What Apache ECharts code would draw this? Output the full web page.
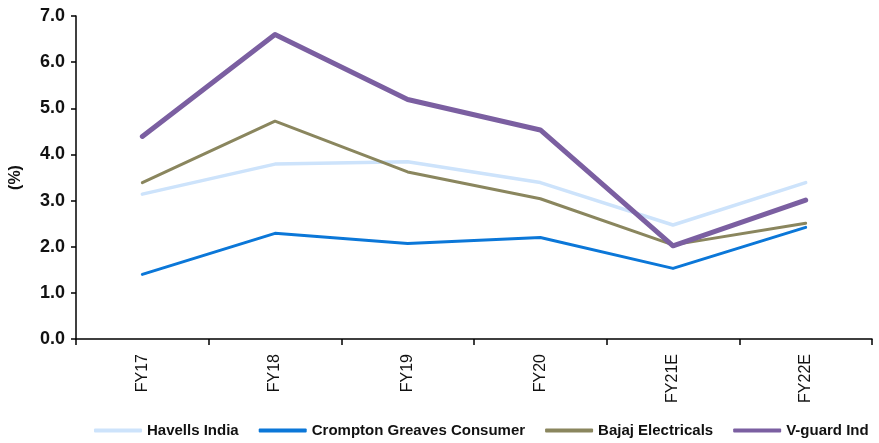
<!DOCTYPE html>
<html><head><meta charset="utf-8">
<script src="https://cdn.jsdelivr.net/npm/echarts@6/dist/echarts.min.js"></script>
<style>html,body{margin:0;padding:0;background:#fff}#c{width:879px;height:443px}</style>
</head><body><div id="c"></div>
<script>
const categories = ['FY17','FY18','FY19','FY20','FY21E','FY22E'];
const havells = [3.14, 3.79, 3.84, 3.39, 2.47, 3.39];
const crompton = [1.40, 2.29, 2.07, 2.20, 1.53, 2.42];
const bajaj = [3.39, 4.72, 3.62, 3.04, 2.04, 2.51];
const vguard = [4.39, 6.60, 5.19, 4.53, 2.02, 3.01];
const yTicks = [0,1,2,3,4,5,6,7];

const chart = echarts.init(document.getElementById('c'), null, {renderer:'canvas'});
const font = '"Liberation Sans", Arial, sans-serif';
function s(name, data, color, width){
  return {name, type:'line', data, symbol:'none', smooth:false,
    lineStyle:{color, width, cap:'round', join:'round'}, itemStyle:{color}};
}
chart.setOption({
  animation:false,
  grid:{left:76, right:7, top:16, bottom:104, containLabel:false},
  legend:{
    left:94, top:423, itemWidth:48, itemHeight:4, itemGap:20, icon:'roundRect', padding:0,
    textStyle:{fontFamily:font, fontWeight:'bold', fontSize:15, color:'#111'},
    data:['Havells India','Crompton Greaves Consumer','Bajaj Electricals','V-guard Ind']
  },
  xAxis:{
    type:'category', data:categories, boundaryGap:true,
    axisLine:{lineStyle:{color:'#000', width:1.5}},
    axisTick:{show:true, length:6, lineStyle:{color:'#000', width:1.5}},
    axisLabel:{rotate:90, margin:15, fontFamily:font, fontSize:16, color:'#111'},
    splitLine:{show:false}
  },
  yAxis:{
    type:'value', min:yTicks[0], max:yTicks[yTicks.length-1], interval:1,
    name:'(%)', nameLocation:'middle', nameGap:52, nameRotate:90,
    nameTextStyle:{fontFamily:font, fontWeight:'bold', fontSize:16, color:'#111'},
    axisLine:{show:true, lineStyle:{color:'#000', width:1.5}},
    axisTick:{show:true, length:5, lineStyle:{color:'#000', width:1.5}},
    axisLabel:{margin:11, formatter:v=>v.toFixed(1), fontFamily:font, fontWeight:'bold', fontSize:18, color:'#111'},
    splitLine:{show:false}
  },
  series:[
    s('Havells India', havells, '#cde3fb', 3.5),
    s('Crompton Greaves Consumer', crompton, '#0b77d8', 3),
    s('Bajaj Electricals', bajaj, '#8a865e', 3),
    s('V-guard Ind', vguard, '#7b5fa1', 5)
  ]
});
</script></body></html>
